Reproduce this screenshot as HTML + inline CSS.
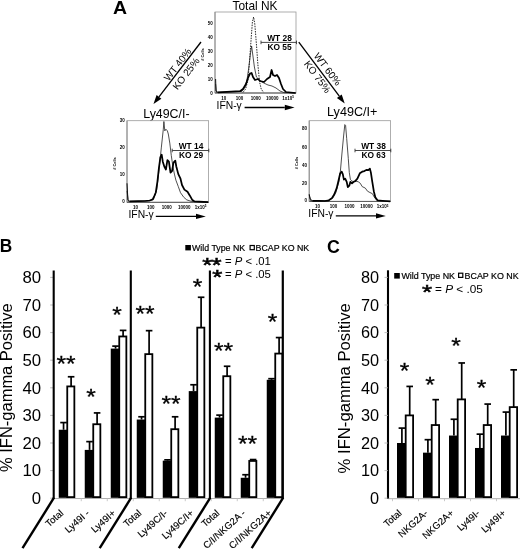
<!DOCTYPE html>
<html lang="en"><head><meta charset="utf-8"><title>Figure</title>
<style>
html,body{margin:0;padding:0;background:#fff;}
body{width:520px;height:550px;overflow:hidden;}
svg{display:block;font-family:"Liberation Sans", sans-serif;}
</style></head>
<body>
<svg width="520" height="550" viewBox="0 0 520 550">
<rect x="0" y="0" width="520" height="550" fill="#fff"/>
<text transform="translate(112.9 14.4) scale(1.07 1)" font-size="18.2" text-anchor="start" font-weight="bold" fill="#000" >A</text>
<text x="255" y="9.6" font-size="11.9" text-anchor="middle" font-weight="normal" fill="#000" >Total NK</text>
<text x="166.4" y="117.5" font-size="12.4" text-anchor="middle" font-weight="normal" fill="#000" >Ly49C/I-</text>
<text x="352.2" y="116.4" font-size="12.6" text-anchor="middle" font-weight="normal" fill="#000" >Ly49C/I+</text>
<rect x="215" y="12.0" width="81" height="81.0" fill="#fff" stroke="#9a9a9a" stroke-width="0.8"/>
<line x1="215.00" y1="12.00" x2="215.00" y2="93.00" stroke="#888" stroke-width="0.9"/>
<line x1="215.00" y1="93.00" x2="296.00" y2="93.00" stroke="#555" stroke-width="1"/>
<polyline points="243.0,92.4 245.6,89.0 248.0,80.0 249.6,60.0 251.2,38.0 252.4,22.0 253.6,17.0 254.8,24.0 256.4,44.0 258.0,66.0 259.6,82.0 261.2,89.0 263.6,92.4" fill="none" stroke="#111" stroke-width="0.9" stroke-linejoin="round" stroke-dasharray="1.5 1.1"/>
<polyline points="215.6,84.0 216.4,92.4 242.0,91.4 245.0,87.0 247.0,80.0 249.0,66.0 250.4,54.0 251.6,46.0 252.8,55.0 254.4,67.0 256.4,77.0 259.0,79.6 262.0,82.0 265.0,83.6 268.0,85.0 272.0,86.0 276.0,88.0 280.0,91.0 284.0,92.6 295.6,93.0" fill="none" stroke="#222" stroke-width="0.8" stroke-linejoin="round"/>
<polyline points="215.6,79.0 216.0,91.0 218.0,92.4" fill="none" stroke="#111" stroke-width="1.0" stroke-linejoin="round"/>
<polyline points="218.0,92.4 240.0,91.2 243.0,89.0 246.0,84.0 248.0,78.0 250.0,73.6 251.6,73.0 253.0,77.0 255.0,80.0 258.0,79.0 260.0,81.0 264.0,82.0 267.0,79.0 270.0,77.0 271.6,70.0 273.0,75.0 275.0,76.0 277.0,75.0 279.0,78.0 281.0,84.0 283.0,89.0 286.0,92.0 295.6,93.0" fill="none" stroke="#000" stroke-width="1.75" stroke-linejoin="round"/>
<line x1="261.00" y1="42.40" x2="296.50" y2="42.40" stroke="#333" stroke-width="0.9"/>
<line x1="261.00" y1="40.60" x2="261.00" y2="44.20" stroke="#333" stroke-width="0.9"/>
<line x1="296.50" y1="40.60" x2="296.50" y2="44.20" stroke="#333" stroke-width="0.9"/>
<text x="279.5" y="40.8" font-size="8.4" text-anchor="middle" font-weight="bold" fill="#000" >WT 28</text>
<text x="279.5" y="49.6" font-size="8.4" text-anchor="middle" font-weight="bold" fill="#000" >KO 55</text>
<text x="212.7" y="25.1" font-size="4.5" text-anchor="end" font-weight="bold" fill="#000" >50</text>
<text x="212.7" y="39.1" font-size="4.5" text-anchor="end" font-weight="bold" fill="#000" >40</text>
<text x="212.7" y="53.1" font-size="4.5" text-anchor="end" font-weight="bold" fill="#000" >30</text>
<text x="212.7" y="67.1" font-size="4.5" text-anchor="end" font-weight="bold" fill="#000" >20</text>
<text x="212.7" y="80.6" font-size="4.5" text-anchor="end" font-weight="bold" fill="#000" >10</text>
<text x="212.7" y="94.6" font-size="4.5" text-anchor="end" font-weight="bold" fill="#000" >0</text>
<text x="223.8" y="99.5" font-size="4.5" text-anchor="middle" font-weight="bold" fill="#000" >10</text>
<text x="239.6" y="99.5" font-size="4.5" text-anchor="middle" font-weight="bold" fill="#000" >100</text>
<text x="255.8" y="99.5" font-size="4.5" text-anchor="middle" font-weight="bold" fill="#000" >1000</text>
<text x="272.2" y="99.5" font-size="4.5" text-anchor="middle" font-weight="bold" fill="#000" >10000</text>
<text x="288" y="99.5" font-size="4.5" text-anchor="middle" font-weight="bold" fill="#000">1x10<tspan dy="-1.6" font-size="3">5</tspan></text>
<text transform="translate(204.2 54.5) rotate(-90)" font-size="3.8" text-anchor="middle" font-weight="bold" fill="#000" ># Cells</text>
<text x="216.6" y="108.8" font-size="10.3" text-anchor="start" font-weight="normal" fill="#000" >IFN-γ</text>
<line x1="244.60" y1="107.50" x2="284.80" y2="107.50" stroke="#000" stroke-width="1.3"/>
<polygon points="294.6,107.5 284.8,110.2 284.8,104.8" fill="#000"/>
<rect x="127" y="120.7" width="81.6" height="81.60000000000001" fill="#fff" stroke="#9a9a9a" stroke-width="0.8"/>
<line x1="127.00" y1="120.70" x2="127.00" y2="202.30" stroke="#888" stroke-width="0.9"/>
<line x1="127.00" y1="202.30" x2="208.60" y2="202.30" stroke="#555" stroke-width="1"/>
<polyline points="127.0,190.9 128.3,201.4 142.7,201.2 149.7,200.8 153.4,199.7 156.7,189.6 158.9,171.1 161.3,147.9 163.3,129.2 163.9,121.5 164.8,130.9 165.9,129.2 167.4,130.9 168.3,134.0 169.8,143.1 171.3,155.6 172.9,166.5 174.4,174.1 175.9,180.2 178.3,186.6 180.5,192.7 183.8,197.3 186.8,199.9 191.4,201.4 208.2,202.1" fill="none" stroke="#222" stroke-width="0.8" stroke-linejoin="round"/>
<polyline points="127.0,183.3 127.9,199.7 129.6,201.4" fill="none" stroke="#111" stroke-width="1.0" stroke-linejoin="round"/>
<polyline points="129.6,201.4 138.4,201.2 144.9,201.0 149.7,200.5 152.8,199.2 154.5,195.7 155.8,192.5 157.4,181.8 158.9,168.0 160.4,157.1 161.7,154.7 162.8,161.7 164.3,166.5 165.9,169.5 167.4,160.2 168.9,161.7 170.5,172.6 172.0,171.1 173.5,162.6 175.3,160.6 176.3,166.5 178.3,174.1 180.5,178.7 182.0,185.0 184.4,189.6 187.5,191.8 189.9,195.7 192.1,199.7 194.5,201.4 208.2,202.1" fill="none" stroke="#000" stroke-width="1.75" stroke-linejoin="round"/>
<line x1="172.20" y1="150.50" x2="208.80" y2="150.50" stroke="#333" stroke-width="0.9"/>
<line x1="172.20" y1="148.70" x2="172.20" y2="152.30" stroke="#333" stroke-width="0.9"/>
<line x1="208.80" y1="148.70" x2="208.80" y2="152.30" stroke="#333" stroke-width="0.9"/>
<text x="191" y="148.9" font-size="8.4" text-anchor="middle" font-weight="bold" fill="#000" >WT 14</text>
<text x="191" y="157.7" font-size="8.4" text-anchor="middle" font-weight="bold" fill="#000" >KO 29</text>
<text x="124.7" y="122.3" font-size="4.5" text-anchor="end" font-weight="bold" fill="#000" >30</text>
<text x="124.7" y="149.29999999999998" font-size="4.5" text-anchor="end" font-weight="bold" fill="#000" >20</text>
<text x="124.7" y="175.79999999999998" font-size="4.5" text-anchor="end" font-weight="bold" fill="#000" >10</text>
<text x="124.7" y="203.1" font-size="4.5" text-anchor="end" font-weight="bold" fill="#000" >0</text>
<text x="135.5" y="208.5" font-size="4.5" text-anchor="middle" font-weight="bold" fill="#000" >10</text>
<text x="150.7" y="208.5" font-size="4.5" text-anchor="middle" font-weight="bold" fill="#000" >100</text>
<text x="166.7" y="208.5" font-size="4.5" text-anchor="middle" font-weight="bold" fill="#000" >1000</text>
<text x="184.3" y="208.5" font-size="4.5" text-anchor="middle" font-weight="bold" fill="#000" >10000</text>
<text x="200.5" y="208.5" font-size="4.5" text-anchor="middle" font-weight="bold" fill="#000">1x10<tspan dy="-1.6" font-size="3">5</tspan></text>
<text transform="translate(116.2 163.5) rotate(-90)" font-size="3.8" text-anchor="middle" font-weight="bold" fill="#000" ># Cells</text>
<text x="128.5" y="217.6" font-size="10.3" text-anchor="start" font-weight="normal" fill="#000" >IFN-γ</text>
<line x1="155.80" y1="216.40" x2="196.00" y2="216.40" stroke="#000" stroke-width="1.3"/>
<polygon points="205.8,216.4 196.0,219.1 196.0,213.7" fill="#000"/>
<rect x="309.2" y="120.7" width="81.40000000000003" height="80.7" fill="#fff" stroke="#9a9a9a" stroke-width="0.8"/>
<line x1="309.20" y1="120.70" x2="309.20" y2="201.40" stroke="#888" stroke-width="0.9"/>
<line x1="309.20" y1="201.40" x2="390.60" y2="201.40" stroke="#555" stroke-width="1"/>
<polyline points="309.2,195.3 310.7,200.8 321.2,200.8 328.2,200.8 332.8,198.1 335.8,192.7 338.9,181.8 340.4,171.1 341.9,154.0 343.5,137.0 344.8,124.6 345.6,125.5 346.7,138.6 348.3,158.6 349.3,172.6 350.4,179.6 352.0,181.1 353.7,181.8 355.9,181.1 358.3,181.8 360.3,183.3 362.2,186.6 365.3,188.1 367.5,191.2 369.9,192.5 372.3,193.6 374.4,197.3 376.8,200.3 390.2,201.4" fill="none" stroke="#222" stroke-width="0.8" stroke-linejoin="round"/>
<polyline points="309.2,194.2 310.3,199.2 312.5,200.8" fill="none" stroke="#111" stroke-width="1.0" stroke-linejoin="round"/>
<polyline points="312.5,200.8 319.0,200.8 324.9,201.0 328.8,200.3 331.9,198.1 334.3,194.2 336.7,188.1 338.6,180.2 340.2,173.3 341.7,171.7 342.8,174.1 343.9,179.6 345.2,178.7 346.7,181.8 347.8,187.2 349.3,185.7 350.4,181.8 352.0,183.3 353.7,181.8 355.2,181.1 357.4,178.7 359.8,173.3 362.2,171.7 364.4,171.1 366.8,169.8 368.3,170.2 369.9,168.7 370.9,172.6 372.3,181.8 373.8,191.2 375.3,197.3 377.5,200.3 384.9,201.0 390.2,201.4" fill="none" stroke="#000" stroke-width="1.75" stroke-linejoin="round"/>
<line x1="355.00" y1="150.50" x2="390.80" y2="150.50" stroke="#333" stroke-width="0.9"/>
<line x1="355.00" y1="148.70" x2="355.00" y2="152.30" stroke="#333" stroke-width="0.9"/>
<line x1="390.80" y1="148.70" x2="390.80" y2="152.30" stroke="#333" stroke-width="0.9"/>
<text x="373.5" y="148.9" font-size="8.4" text-anchor="middle" font-weight="bold" fill="#000" >WT 38</text>
<text x="373.5" y="157.7" font-size="8.4" text-anchor="middle" font-weight="bold" fill="#000" >KO 63</text>
<text x="306.9" y="130.29999999999998" font-size="4.5" text-anchor="end" font-weight="bold" fill="#000" >80</text>
<text x="306.9" y="148.79999999999998" font-size="4.5" text-anchor="end" font-weight="bold" fill="#000" >60</text>
<text x="306.9" y="166.79999999999998" font-size="4.5" text-anchor="end" font-weight="bold" fill="#000" >40</text>
<text x="306.9" y="184.79999999999998" font-size="4.5" text-anchor="end" font-weight="bold" fill="#000" >20</text>
<text x="306.9" y="202.29999999999998" font-size="4.5" text-anchor="end" font-weight="bold" fill="#000" >0</text>
<text x="317.5" y="208.3" font-size="4.5" text-anchor="middle" font-weight="bold" fill="#000" >10</text>
<text x="333.5" y="208.3" font-size="4.5" text-anchor="middle" font-weight="bold" fill="#000" >100</text>
<text x="349.5" y="208.3" font-size="4.5" text-anchor="middle" font-weight="bold" fill="#000" >1000</text>
<text x="366.5" y="208.3" font-size="4.5" text-anchor="middle" font-weight="bold" fill="#000" >10000</text>
<text x="382.5" y="208.3" font-size="4.5" text-anchor="middle" font-weight="bold" fill="#000">1x10<tspan dy="-1.6" font-size="3">5</tspan></text>
<text transform="translate(298.4 163.05) rotate(-90)" font-size="3.8" text-anchor="middle" font-weight="bold" fill="#000" ># Cells</text>
<text x="308.3" y="217.3" font-size="10.3" text-anchor="start" font-weight="normal" fill="#000" >IFN-γ</text>
<line x1="335.80" y1="215.90" x2="376.00" y2="215.90" stroke="#000" stroke-width="1.3"/>
<polygon points="385.8,215.9 376.0,218.6 376.0,213.2" fill="#000"/>
<line x1="201.00" y1="42.00" x2="158.97" y2="96.86" stroke="#000" stroke-width="1.3"/>
<polygon points="153.5,104.0 156.6,95.0 161.4,98.7" fill="#000"/>
<text transform="translate(168.8 81.7) rotate(-52.5)" font-size="10" text-anchor="start" font-weight="normal" fill="#000" >WT 40%</text>
<text transform="translate(177.5 90.5) rotate(-52.5)" font-size="10" text-anchor="start" font-weight="normal" fill="#000" >KO 25%</text>
<line x1="298.80" y1="42.20" x2="339.30" y2="96.20" stroke="#000" stroke-width="1.3"/>
<polygon points="344.7,103.4 336.9,98.0 341.7,94.4" fill="#000"/>
<text transform="translate(313.3 56.0) rotate(53)" font-size="10" text-anchor="start" font-weight="normal" fill="#000" >WT 60%</text>
<text transform="translate(303.5 64.0) rotate(53)" font-size="10" text-anchor="start" font-weight="normal" fill="#000" >KO 75%</text>
<text transform="translate(-0.3 251.6) scale(0.97 1)" font-size="17.8" text-anchor="start" font-weight="bold" fill="#000" >B</text>
<line x1="53.00" y1="498.50" x2="283.00" y2="498.50" stroke="#999" stroke-width="0.8"/>
<line x1="81.25" y1="498.20" x2="81.25" y2="501.20" stroke="#bbb" stroke-width="0.8"/>
<line x1="107.25" y1="498.20" x2="107.25" y2="501.20" stroke="#bbb" stroke-width="0.8"/>
<line x1="133.25" y1="498.20" x2="133.25" y2="501.20" stroke="#bbb" stroke-width="0.8"/>
<line x1="159.25" y1="498.20" x2="159.25" y2="501.20" stroke="#bbb" stroke-width="0.8"/>
<line x1="185.25" y1="498.20" x2="185.25" y2="501.20" stroke="#bbb" stroke-width="0.8"/>
<line x1="211.25" y1="498.20" x2="211.25" y2="501.20" stroke="#bbb" stroke-width="0.8"/>
<line x1="237.25" y1="498.20" x2="237.25" y2="501.20" stroke="#bbb" stroke-width="0.8"/>
<line x1="263.25" y1="498.20" x2="263.25" y2="501.20" stroke="#bbb" stroke-width="0.8"/>
<text x="41.2" y="503.9" font-size="16.8" text-anchor="end" font-weight="normal" fill="#000" >0</text>
<line x1="50.20" y1="498.20" x2="53.70" y2="498.20" stroke="#aaa" stroke-width="0.8"/>
<text x="41.2" y="476.29999999999995" font-size="16.8" text-anchor="end" font-weight="normal" fill="#000" >10</text>
<line x1="50.20" y1="470.60" x2="53.70" y2="470.60" stroke="#aaa" stroke-width="0.8"/>
<text x="41.2" y="448.7" font-size="16.8" text-anchor="end" font-weight="normal" fill="#000" >20</text>
<line x1="50.20" y1="443.00" x2="53.70" y2="443.00" stroke="#aaa" stroke-width="0.8"/>
<text x="41.2" y="421.09999999999997" font-size="16.8" text-anchor="end" font-weight="normal" fill="#000" >30</text>
<line x1="50.20" y1="415.40" x2="53.70" y2="415.40" stroke="#aaa" stroke-width="0.8"/>
<text x="41.2" y="393.5" font-size="16.8" text-anchor="end" font-weight="normal" fill="#000" >40</text>
<line x1="50.20" y1="387.80" x2="53.70" y2="387.80" stroke="#aaa" stroke-width="0.8"/>
<text x="41.2" y="365.9" font-size="16.8" text-anchor="end" font-weight="normal" fill="#000" >50</text>
<line x1="50.20" y1="360.20" x2="53.70" y2="360.20" stroke="#aaa" stroke-width="0.8"/>
<text x="41.2" y="338.3" font-size="16.8" text-anchor="end" font-weight="normal" fill="#000" >60</text>
<line x1="50.20" y1="332.60" x2="53.70" y2="332.60" stroke="#aaa" stroke-width="0.8"/>
<text x="41.2" y="310.7" font-size="16.8" text-anchor="end" font-weight="normal" fill="#000" >70</text>
<line x1="50.20" y1="305.00" x2="53.70" y2="305.00" stroke="#aaa" stroke-width="0.8"/>
<text x="41.2" y="283.09999999999997" font-size="16.8" text-anchor="end" font-weight="normal" fill="#000" >80</text>
<line x1="50.20" y1="277.40" x2="53.70" y2="277.40" stroke="#aaa" stroke-width="0.8"/>
<line x1="63.55" y1="422.58" x2="63.55" y2="429.75" stroke="#000" stroke-width="1.7"/>
<line x1="60.25" y1="422.58" x2="66.85" y2="422.58" stroke="#000" stroke-width="1.7"/>
<rect x="58.75" y="429.75" width="8.80" height="68.05" fill="#000"/>
<line x1="71.10" y1="376.76" x2="71.10" y2="386.42" stroke="#000" stroke-width="1.7"/>
<line x1="67.80" y1="376.76" x2="74.40" y2="376.76" stroke="#000" stroke-width="1.7"/>
<rect x="67.25" y="386.42" width="7.10" height="110.68" fill="#fff" stroke="#000" stroke-width="1.8"/>
<line x1="89.55" y1="441.62" x2="89.55" y2="449.90" stroke="#000" stroke-width="1.7"/>
<line x1="86.25" y1="441.62" x2="92.85" y2="441.62" stroke="#000" stroke-width="1.7"/>
<rect x="84.75" y="449.90" width="8.80" height="47.90" fill="#000"/>
<line x1="97.10" y1="412.92" x2="97.10" y2="424.23" stroke="#000" stroke-width="1.7"/>
<line x1="93.80" y1="412.92" x2="100.40" y2="412.92" stroke="#000" stroke-width="1.7"/>
<rect x="93.25" y="424.23" width="7.10" height="72.87" fill="#fff" stroke="#000" stroke-width="1.8"/>
<line x1="115.55" y1="346.12" x2="115.55" y2="348.61" stroke="#000" stroke-width="1.7"/>
<line x1="112.25" y1="346.12" x2="118.85" y2="346.12" stroke="#000" stroke-width="1.7"/>
<rect x="110.75" y="348.61" width="8.80" height="149.19" fill="#000"/>
<line x1="123.10" y1="330.39" x2="123.10" y2="336.46" stroke="#000" stroke-width="1.7"/>
<line x1="119.80" y1="330.39" x2="126.40" y2="330.39" stroke="#000" stroke-width="1.7"/>
<rect x="119.25" y="336.46" width="7.10" height="160.64" fill="#fff" stroke="#000" stroke-width="1.8"/>
<line x1="141.55" y1="416.78" x2="141.55" y2="419.54" stroke="#000" stroke-width="1.7"/>
<line x1="138.25" y1="416.78" x2="144.85" y2="416.78" stroke="#000" stroke-width="1.7"/>
<rect x="136.75" y="419.54" width="8.80" height="78.26" fill="#000"/>
<line x1="149.10" y1="330.67" x2="149.10" y2="354.13" stroke="#000" stroke-width="1.7"/>
<line x1="145.80" y1="330.67" x2="152.40" y2="330.67" stroke="#000" stroke-width="1.7"/>
<rect x="145.25" y="354.13" width="7.10" height="142.97" fill="#fff" stroke="#000" stroke-width="1.8"/>
<line x1="167.55" y1="459.84" x2="167.55" y2="460.66" stroke="#000" stroke-width="1.7"/>
<line x1="164.25" y1="459.84" x2="170.85" y2="459.84" stroke="#000" stroke-width="1.7"/>
<rect x="162.75" y="460.66" width="8.80" height="37.14" fill="#000"/>
<line x1="175.10" y1="416.78" x2="175.10" y2="429.20" stroke="#000" stroke-width="1.7"/>
<line x1="171.80" y1="416.78" x2="178.40" y2="416.78" stroke="#000" stroke-width="1.7"/>
<rect x="171.25" y="429.20" width="7.10" height="67.90" fill="#fff" stroke="#000" stroke-width="1.8"/>
<line x1="193.55" y1="384.76" x2="193.55" y2="391.11" stroke="#000" stroke-width="1.7"/>
<line x1="190.25" y1="384.76" x2="196.85" y2="384.76" stroke="#000" stroke-width="1.7"/>
<rect x="188.75" y="391.11" width="8.80" height="106.69" fill="#000"/>
<line x1="201.10" y1="297.27" x2="201.10" y2="327.63" stroke="#000" stroke-width="1.7"/>
<line x1="197.80" y1="297.27" x2="204.40" y2="297.27" stroke="#000" stroke-width="1.7"/>
<rect x="197.25" y="327.63" width="7.10" height="169.47" fill="#fff" stroke="#000" stroke-width="1.8"/>
<line x1="219.55" y1="415.12" x2="219.55" y2="417.61" stroke="#000" stroke-width="1.7"/>
<line x1="216.25" y1="415.12" x2="222.85" y2="415.12" stroke="#000" stroke-width="1.7"/>
<rect x="214.75" y="417.61" width="8.80" height="80.19" fill="#000"/>
<line x1="227.10" y1="366.27" x2="227.10" y2="376.21" stroke="#000" stroke-width="1.7"/>
<line x1="223.80" y1="366.27" x2="230.40" y2="366.27" stroke="#000" stroke-width="1.7"/>
<rect x="223.25" y="376.21" width="7.10" height="120.89" fill="#fff" stroke="#000" stroke-width="1.8"/>
<line x1="245.55" y1="474.74" x2="245.55" y2="477.78" stroke="#000" stroke-width="1.7"/>
<line x1="242.25" y1="474.74" x2="248.85" y2="474.74" stroke="#000" stroke-width="1.7"/>
<rect x="240.75" y="477.78" width="8.80" height="20.02" fill="#000"/>
<line x1="253.10" y1="459.56" x2="253.10" y2="460.94" stroke="#000" stroke-width="1.7"/>
<line x1="249.80" y1="459.56" x2="256.40" y2="459.56" stroke="#000" stroke-width="1.7"/>
<rect x="249.25" y="460.94" width="7.10" height="36.16" fill="#fff" stroke="#000" stroke-width="1.8"/>
<line x1="271.55" y1="378.69" x2="271.55" y2="379.80" stroke="#000" stroke-width="1.7"/>
<line x1="268.25" y1="378.69" x2="274.85" y2="378.69" stroke="#000" stroke-width="1.7"/>
<rect x="266.75" y="379.80" width="8.80" height="118.00" fill="#000"/>
<line x1="279.10" y1="337.57" x2="279.10" y2="353.58" stroke="#000" stroke-width="1.7"/>
<line x1="275.80" y1="337.57" x2="282.40" y2="337.57" stroke="#000" stroke-width="1.7"/>
<rect x="275.25" y="353.58" width="7.10" height="143.52" fill="#fff" stroke="#000" stroke-width="1.8"/>
<line x1="53.70" y1="270.50" x2="53.70" y2="498.70" stroke="#000" stroke-width="2.1"/>
<line x1="130.80" y1="270.50" x2="130.80" y2="498.70" stroke="#000" stroke-width="2.1"/>
<line x1="209.90" y1="270.50" x2="209.90" y2="498.70" stroke="#000" stroke-width="2.1"/>
<line x1="282.80" y1="270.50" x2="282.80" y2="498.70" stroke="#000" stroke-width="2.2"/>
<line x1="54.0" y1="497.7" x2="22.5" y2="548.2" stroke="#000" stroke-width="2.4"/>
<line x1="131.2" y1="497.7" x2="99.69999999999999" y2="548.2" stroke="#000" stroke-width="2.4"/>
<line x1="210.3" y1="497.7" x2="178.8" y2="548.2" stroke="#000" stroke-width="2.4"/>
<line x1="283.2" y1="497.7" x2="251.7" y2="548.2" stroke="#000" stroke-width="2.4"/>
<text transform="translate(64.05 514) rotate(-42)" font-size="9.6" text-anchor="end" font-weight="normal" fill="#000" stroke="#000" stroke-width="0.15">Total</text>
<text transform="translate(90.05 514) rotate(-42)" font-size="9.6" text-anchor="end" font-weight="normal" fill="#000" stroke="#000" stroke-width="0.15">Ly49I -</text>
<text transform="translate(116.05 514) rotate(-42)" font-size="9.6" text-anchor="end" font-weight="normal" fill="#000" stroke="#000" stroke-width="0.15">Ly49I+</text>
<text transform="translate(142.05 514) rotate(-42)" font-size="9.6" text-anchor="end" font-weight="normal" fill="#000" stroke="#000" stroke-width="0.15">Total</text>
<text transform="translate(168.05 514) rotate(-42)" font-size="9.6" text-anchor="end" font-weight="normal" fill="#000" stroke="#000" stroke-width="0.15">Ly49C/I-</text>
<text transform="translate(194.05 514) rotate(-42)" font-size="9.6" text-anchor="end" font-weight="normal" fill="#000" stroke="#000" stroke-width="0.15">Ly49C/I+</text>
<text transform="translate(220.05 514) rotate(-42)" font-size="9.6" text-anchor="end" font-weight="normal" fill="#000" stroke="#000" stroke-width="0.15">Total</text>
<text transform="translate(246.05 514) rotate(-42)" font-size="9.6" text-anchor="end" font-weight="normal" fill="#000" stroke="#000" stroke-width="0.15">C/I/NKG2A -</text>
<text transform="translate(272.05 514) rotate(-42)" font-size="9.6" text-anchor="end" font-weight="normal" fill="#000" stroke="#000" stroke-width="0.15">C/I/NKG2A+</text>
<text transform="translate(12.2 387.7) rotate(-90) scale(1 0.96)" font-size="16.5" text-anchor="middle" font-weight="normal" fill="#000" >% IFN-gamma Positive</text>
<text transform="translate(66 370.5) scale(1.12 1)" font-size="22" text-anchor="middle" font-weight="normal" fill="#000" stroke="#000" stroke-width="0.3">**</text>
<text transform="translate(91 403.5) scale(1.12 1)" font-size="22" text-anchor="middle" font-weight="normal" fill="#000" stroke="#000" stroke-width="0.3">*</text>
<text transform="translate(117 321.5) scale(1.12 1)" font-size="22" text-anchor="middle" font-weight="normal" fill="#000" stroke="#000" stroke-width="0.3">*</text>
<text transform="translate(145 321.2) scale(1.12 1)" font-size="22" text-anchor="middle" font-weight="normal" fill="#000" stroke="#000" stroke-width="0.3">**</text>
<text transform="translate(171 410.5) scale(1.12 1)" font-size="22" text-anchor="middle" font-weight="normal" fill="#000" stroke="#000" stroke-width="0.3">**</text>
<text transform="translate(197.5 294.0) scale(1.12 1)" font-size="22" text-anchor="middle" font-weight="normal" fill="#000" stroke="#000" stroke-width="0.3">*</text>
<text transform="translate(223.5 357.8) scale(1.12 1)" font-size="22" text-anchor="middle" font-weight="normal" fill="#000" stroke="#000" stroke-width="0.3">**</text>
<text transform="translate(247.5 451.0) scale(1.12 1)" font-size="22" text-anchor="middle" font-weight="normal" fill="#000" stroke="#000" stroke-width="0.3">**</text>
<text transform="translate(272.5 329.0) scale(1.12 1)" font-size="22" text-anchor="middle" font-weight="normal" fill="#000" stroke="#000" stroke-width="0.3">*</text>
<rect x="185.30" y="245.00" width="5.60" height="5.40" fill="#000"/>
<text x="192.0" y="251.4" font-size="8.8" text-anchor="start" font-weight="normal" fill="#000" stroke="#000" stroke-width="0.2">Wild Type NK</text>
<rect x="250.10" y="245.50" width="4.20" height="4.20" fill="#fff" stroke="#000" stroke-width="1.2"/>
<text x="255.6" y="251.4" font-size="8.8" text-anchor="start" font-weight="normal" fill="#000" stroke="#000" stroke-width="0.2">BCAP KO NK</text>
<text transform="translate(211.6 272.0325) scale(1.33 1)" font-size="19.5" text-anchor="middle" font-weight="normal" fill="#000" stroke="#000" stroke-width="0.5" letter-spacing="-0.6">**</text>
<text x="225" y="264.8" font-size="11.3">= <tspan font-style="italic">P</tspan> &lt; .01</text>
<text transform="translate(216.79999999999998 284.2325) scale(1.33 1)" font-size="19.5" text-anchor="middle" font-weight="normal" fill="#000" stroke="#000" stroke-width="0.5" letter-spacing="-0.6">*</text>
<text x="225" y="277.6" font-size="11.3">= <tspan font-style="italic">P</tspan> &lt; .05</text>
<text x="326.9" y="252.8" font-size="17.8" text-anchor="start" font-weight="bold" fill="#000" >C</text>
<line x1="388.00" y1="270.30" x2="388.00" y2="499.00" stroke="#000" stroke-width="2.1"/>
<line x1="388.00" y1="498.70" x2="520.00" y2="498.70" stroke="#999" stroke-width="0.8"/>
<text x="379" y="503.9" font-size="16.3" text-anchor="end" font-weight="normal" fill="#000" >0</text>
<line x1="384.50" y1="498.20" x2="388.00" y2="498.20" stroke="#aaa" stroke-width="0.8"/>
<text x="379" y="476.29999999999995" font-size="16.3" text-anchor="end" font-weight="normal" fill="#000" >10</text>
<line x1="384.50" y1="470.60" x2="388.00" y2="470.60" stroke="#aaa" stroke-width="0.8"/>
<text x="379" y="448.7" font-size="16.3" text-anchor="end" font-weight="normal" fill="#000" >20</text>
<line x1="384.50" y1="443.00" x2="388.00" y2="443.00" stroke="#aaa" stroke-width="0.8"/>
<text x="379" y="421.09999999999997" font-size="16.3" text-anchor="end" font-weight="normal" fill="#000" >30</text>
<line x1="384.50" y1="415.40" x2="388.00" y2="415.40" stroke="#aaa" stroke-width="0.8"/>
<text x="379" y="393.5" font-size="16.3" text-anchor="end" font-weight="normal" fill="#000" >40</text>
<line x1="384.50" y1="387.80" x2="388.00" y2="387.80" stroke="#aaa" stroke-width="0.8"/>
<text x="379" y="365.9" font-size="16.3" text-anchor="end" font-weight="normal" fill="#000" >50</text>
<line x1="384.50" y1="360.20" x2="388.00" y2="360.20" stroke="#aaa" stroke-width="0.8"/>
<text x="379" y="338.3" font-size="16.3" text-anchor="end" font-weight="normal" fill="#000" >60</text>
<line x1="384.50" y1="332.60" x2="388.00" y2="332.60" stroke="#aaa" stroke-width="0.8"/>
<text x="379" y="310.7" font-size="16.3" text-anchor="end" font-weight="normal" fill="#000" >70</text>
<line x1="384.50" y1="305.00" x2="388.00" y2="305.00" stroke="#aaa" stroke-width="0.8"/>
<text x="379" y="283.09999999999997" font-size="16.3" text-anchor="end" font-weight="normal" fill="#000" >80</text>
<line x1="384.50" y1="277.40" x2="388.00" y2="277.40" stroke="#aaa" stroke-width="0.8"/>
<line x1="392.50" y1="498.20" x2="392.50" y2="501.20" stroke="#bbb" stroke-width="0.8"/>
<line x1="418.50" y1="498.20" x2="418.50" y2="501.20" stroke="#bbb" stroke-width="0.8"/>
<line x1="444.50" y1="498.20" x2="444.50" y2="501.20" stroke="#bbb" stroke-width="0.8"/>
<line x1="470.50" y1="498.20" x2="470.50" y2="501.20" stroke="#bbb" stroke-width="0.8"/>
<line x1="496.50" y1="498.20" x2="496.50" y2="501.20" stroke="#bbb" stroke-width="0.8"/>
<line x1="401.90" y1="428.10" x2="401.90" y2="443.00" stroke="#000" stroke-width="1.7"/>
<line x1="398.60" y1="428.10" x2="405.20" y2="428.10" stroke="#000" stroke-width="1.7"/>
<rect x="397.00" y="443.00" width="9.00" height="54.80" fill="#000"/>
<line x1="409.70" y1="386.42" x2="409.70" y2="415.40" stroke="#000" stroke-width="1.7"/>
<line x1="406.40" y1="386.42" x2="413.00" y2="386.42" stroke="#000" stroke-width="1.7"/>
<rect x="405.70" y="415.40" width="7.40" height="81.70" fill="#fff" stroke="#000" stroke-width="1.8"/>
<line x1="427.90" y1="439.69" x2="427.90" y2="452.66" stroke="#000" stroke-width="1.7"/>
<line x1="424.60" y1="439.69" x2="431.20" y2="439.69" stroke="#000" stroke-width="1.7"/>
<rect x="423.00" y="452.66" width="9.00" height="45.14" fill="#000"/>
<line x1="435.70" y1="399.67" x2="435.70" y2="425.06" stroke="#000" stroke-width="1.7"/>
<line x1="432.40" y1="399.67" x2="439.00" y2="399.67" stroke="#000" stroke-width="1.7"/>
<rect x="431.70" y="425.06" width="7.40" height="72.04" fill="#fff" stroke="#000" stroke-width="1.8"/>
<line x1="453.90" y1="419.26" x2="453.90" y2="435.55" stroke="#000" stroke-width="1.7"/>
<line x1="450.60" y1="419.26" x2="457.20" y2="419.26" stroke="#000" stroke-width="1.7"/>
<rect x="449.00" y="435.55" width="9.00" height="62.25" fill="#000"/>
<line x1="461.70" y1="362.96" x2="461.70" y2="399.39" stroke="#000" stroke-width="1.7"/>
<line x1="458.40" y1="362.96" x2="465.00" y2="362.96" stroke="#000" stroke-width="1.7"/>
<rect x="457.70" y="399.39" width="7.40" height="97.71" fill="#fff" stroke="#000" stroke-width="1.8"/>
<line x1="479.90" y1="434.17" x2="479.90" y2="447.97" stroke="#000" stroke-width="1.7"/>
<line x1="476.60" y1="434.17" x2="483.20" y2="434.17" stroke="#000" stroke-width="1.7"/>
<rect x="475.00" y="447.97" width="9.00" height="49.83" fill="#000"/>
<line x1="487.70" y1="404.08" x2="487.70" y2="425.06" stroke="#000" stroke-width="1.7"/>
<line x1="484.40" y1="404.08" x2="491.00" y2="404.08" stroke="#000" stroke-width="1.7"/>
<rect x="483.70" y="425.06" width="7.40" height="72.04" fill="#fff" stroke="#000" stroke-width="1.8"/>
<line x1="505.90" y1="412.09" x2="505.90" y2="435.55" stroke="#000" stroke-width="1.7"/>
<line x1="502.60" y1="412.09" x2="509.20" y2="412.09" stroke="#000" stroke-width="1.7"/>
<rect x="501.00" y="435.55" width="9.00" height="62.25" fill="#000"/>
<line x1="513.70" y1="369.86" x2="513.70" y2="407.12" stroke="#000" stroke-width="1.7"/>
<line x1="510.40" y1="369.86" x2="517.00" y2="369.86" stroke="#000" stroke-width="1.7"/>
<rect x="509.70" y="407.12" width="7.40" height="89.98" fill="#fff" stroke="#000" stroke-width="1.8"/>
<text transform="translate(402.3 514) rotate(-42)" font-size="9.6" text-anchor="end" font-weight="normal" fill="#000" stroke="#000" stroke-width="0.15">Total</text>
<text transform="translate(428.3 514) rotate(-42)" font-size="9.6" text-anchor="end" font-weight="normal" fill="#000" stroke="#000" stroke-width="0.15">NKG2A-</text>
<text transform="translate(454.3 514) rotate(-42)" font-size="9.6" text-anchor="end" font-weight="normal" fill="#000" stroke="#000" stroke-width="0.15">NKG2A+</text>
<text transform="translate(480.3 514) rotate(-42)" font-size="9.6" text-anchor="end" font-weight="normal" fill="#000" stroke="#000" stroke-width="0.15">Ly49I-</text>
<text transform="translate(506.3 514) rotate(-42)" font-size="9.6" text-anchor="end" font-weight="normal" fill="#000" stroke="#000" stroke-width="0.15">Ly49I+</text>
<text transform="translate(350.3 388.3) rotate(-90)" font-size="16.65" text-anchor="middle" font-weight="normal" fill="#000" >% IFN-gamma Positive</text>
<text transform="translate(404.5 377.5) scale(1.12 1)" font-size="22" text-anchor="middle" font-weight="normal" fill="#000" stroke="#000" stroke-width="0.3">*</text>
<text transform="translate(430 391.6) scale(1.12 1)" font-size="22" text-anchor="middle" font-weight="normal" fill="#000" stroke="#000" stroke-width="0.3">*</text>
<text transform="translate(456 352.5) scale(1.12 1)" font-size="22" text-anchor="middle" font-weight="normal" fill="#000" stroke="#000" stroke-width="0.3">*</text>
<text transform="translate(481.5 394.5) scale(1.12 1)" font-size="22" text-anchor="middle" font-weight="normal" fill="#000" stroke="#000" stroke-width="0.3">*</text>
<rect x="394.20" y="273.00" width="5.60" height="5.60" fill="#000"/>
<text x="401.4" y="278.6" font-size="8.9" text-anchor="start" font-weight="normal" fill="#000" stroke="#000" stroke-width="0.2">Wild Type NK</text>
<rect x="458.60" y="273.20" width="4.20" height="4.20" fill="#fff" stroke="#000" stroke-width="1.2"/>
<text x="464.6" y="278.6" font-size="8.9" text-anchor="start" font-weight="normal" fill="#000" stroke="#000" stroke-width="0.2">BCAP KO NK</text>
<text transform="translate(426.6 298.7325) scale(1.33 1)" font-size="19.5" text-anchor="middle" font-weight="normal" fill="#000" stroke="#000" stroke-width="0.5" letter-spacing="-0.6">*</text>
<text x="435" y="292.8" font-size="11.8">= <tspan font-style="italic">P</tspan> &lt; .05</text>
</svg>
</body></html>
